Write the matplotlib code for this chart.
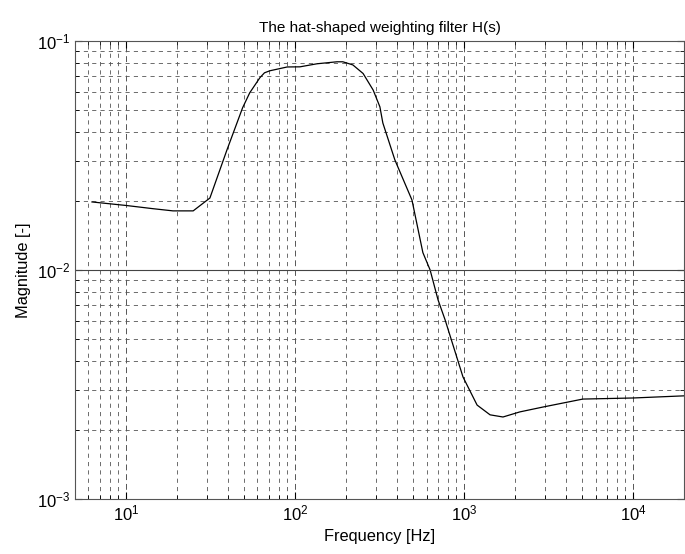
import matplotlib
matplotlib.use("Agg")
import matplotlib.pyplot as plt
import numpy as np

plt.rcParams["font.family"] = ["Liberation Sans", "DejaVu Sans"]
plt.rcParams["mathtext.default"] = "regular"

# values (Hz, magnitude)
freq = [6.3, 10.1, 14.5, 19, 25, 31.4, 39.6, 49, 54, 62, 66, 71, 90, 107,
        135, 177, 192, 220, 253, 290, 318, 331, 390, 492, 571, 630, 702,
        773, 986, 1195, 1426, 1700, 2140, 2930, 5040, 10000, 20000]
mag = [0.0198, 0.0191, 0.0185, 0.0181, 0.0181, 0.0206, 0.0334, 0.051,
       0.0593, 0.069, 0.0725, 0.074, 0.0769, 0.077, 0.0794, 0.081, 0.081,
       0.0785, 0.072, 0.061, 0.0515, 0.0438, 0.0302, 0.0202, 0.0119,
       0.0100, 0.0074, 0.00605, 0.00341, 0.00257, 0.00233, 0.00228, 0.0024,
       0.00252, 0.00273, 0.00276, 0.00282]

fig = plt.figure(figsize=(6.85, 5.54), dpi=100)
ax = fig.add_axes([0.1095, 0.0993, 0.889, 0.827])

ax.loglog(freq, mag, color="black", lw=0.9)
ax.set_xlim(5, 2e4)
ax.set_ylim(1e-3, 1e-1)

ax.grid(True, which="major", color="#555555", lw=0.7, ls=(0, (6, 4)))
ax.grid(True, which="minor", color="#555555", lw=0.6, ls=(0, (5, 5)))
# the 10^-2 line shows as a solid line in the reference
ax.axhline(1e-2, color="#444444", lw=0.8)

ax.tick_params(which="both", direction="in", top=True, right=True,
               labelsize=12)
ax.tick_params(which="major", length=5)
ax.tick_params(which="minor", length=3)
for s in ax.spines.values():
    s.set_linewidth(0.8)
    s.set_color("#555555")

ax.set_title("The hat-shaped weighting filter H(s)", fontsize=11)
ax.set_xlabel("Frequency [Hz]", fontsize=11.8)
ax.set_ylabel("Magnitude [-]", fontsize=11.8)

fig.savefig("out.png", dpi=100)
